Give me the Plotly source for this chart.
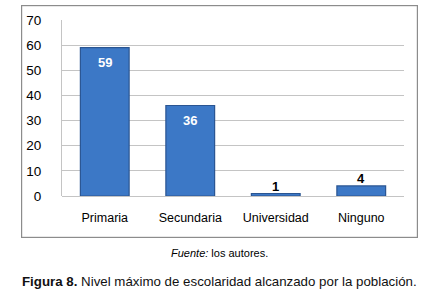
import plotly.graph_objects as go

categories = ["Primaria", "Secundaria", "Universidad", "Ninguno"]
values = [59, 36, 1, 4]
y_ticks = [0, 10, 20, 30, 40, 50, 60, 70]

W, H = 438, 299
L, R, T, B = 62, 404, 20, 196  # plot area pixel box


def px_x(px):
    return (px - L) / (R - L)


def px_y(py):
    return (B - py) / (B - T)


fig = go.Figure()
fig.add_trace(go.Bar(
    x=categories, y=values,
    width=0.57,
    marker=dict(color="#3c78c6", line=dict(color="#2a5592", width=1.2)),
    hoverinfo="skip",
))

label_annotations = []
for c, v in zip(categories, values):
    inside = v > 10
    label_annotations.append(dict(
        x=c, y=v, xref="x", yref="y", text=f"<b>{v}</b>", showarrow=False,
        yanchor="middle", yshift=-15 if inside else 7,
        font=dict(size=13, family="Liberation Sans", color="white" if inside else "black"),
    ))

# outer chart frame (drawn as an empty bordered annotation box)
frame = dict(text=" ", xref="paper", yref="paper",
             x=px_x(219.5), y=px_y(121.5), xanchor="center", yanchor="middle",
             width=395, height=231, borderpad=0, borderwidth=1.2,
             bordercolor="#8c8c8c", showarrow=False, font=dict(size=1))

fig.update_layout(
    width=W, height=H,
    margin=dict(l=L, r=W - R, t=T, b=H - B),
    paper_bgcolor="white", plot_bgcolor="white",
    font=dict(family="Liberation Sans", size=13, color="black"),
    showlegend=False,
    xaxis=dict(showgrid=False, showline=False, ticks="", tickfont=dict(size=12.5),
               ticklabelstandoff=12, range=[-0.5, 3.5]),
    yaxis=dict(range=[0, 70], tickvals=y_ticks, showgrid=True, gridcolor="#c4c4c4",
               gridwidth=1, showline=True, linecolor="#c4c4c4", linewidth=1,
               zeroline=True, zerolinecolor="#c4c4c4", zerolinewidth=1,
               ticks="", ticklabelstandoff=17, tickfont=dict(size=13.5)),
    annotations=[frame] + label_annotations + [
        dict(text="<i>Fuente:</i> los autores.", xref="paper", yref="paper",
             x=px_x(219), y=px_y(253), xanchor="center", yanchor="middle", showarrow=False,
             font=dict(size=11, family="Liberation Sans", color="black")),
        dict(text="<b>Figura 8.</b> Nivel máximo de escolaridad alcanzado por la población.",
             xref="paper", yref="paper", x=px_x(219), y=px_y(281),
             xanchor="center", yanchor="middle", showarrow=False,
             font=dict(size=13.3, family="Liberation Sans", color="#111111")),
    ],
)

fig.write_html("out.html", config={"displayModeBar": False},
               post_script="document.body.style.margin='0px';")
